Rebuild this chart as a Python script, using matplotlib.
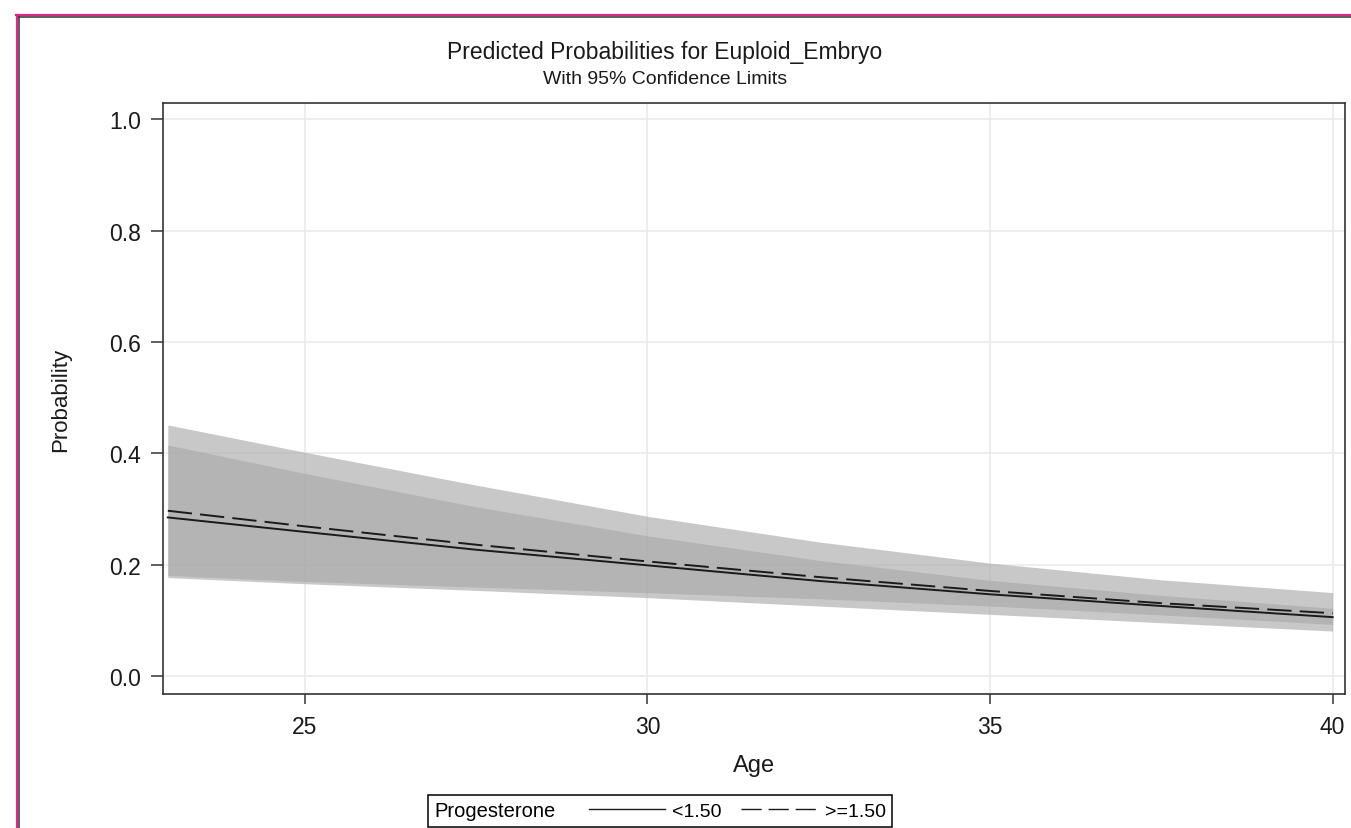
import matplotlib
matplotlib.use("Agg")
import matplotlib.pyplot as plt
from matplotlib.lines import Line2D
from matplotlib.offsetbox import HPacker

plt.rcParams['font.family'] = ['Liberation Sans', 'DejaVu Sans']

# values
age = [23, 25, 27.5, 30, 32.5, 35, 37.5, 40]
prob_low = [0.285, 0.259, 0.227, 0.199, 0.171, 0.147, 0.126, 0.106]
low_lcl = [0.181, 0.170, 0.160, 0.150, 0.139, 0.126, 0.110, 0.093]
low_ucl = [0.415, 0.364, 0.304, 0.252, 0.208, 0.172, 0.145, 0.122]
prob_high = [0.297, 0.269, 0.236, 0.206, 0.178, 0.153, 0.131, 0.113]
high_lcl = [0.177, 0.166, 0.154, 0.141, 0.126, 0.111, 0.096, 0.081]
high_ucl = [0.451, 0.402, 0.343, 0.287, 0.241, 0.203, 0.173, 0.150]
group_labels = ['<1.50', '>=1.50']
x_ticks = [25, 30, 35, 40]
y_ticks = [0.0, 0.2, 0.4, 0.6, 0.8, 1.0]

W, H = 1351, 829
fig = plt.figure(figsize=(W / 100, H / 100), dpi=100)
ax = fig.add_axes([163 / W, 1 - 695 / H, (1345 - 163) / W, (695 - 104) / H])

band_col = '#a9a9a9'
ax.fill_between(age, high_lcl, high_ucl, color=band_col, alpha=0.64, lw=0, zorder=2)
ax.fill_between(age, low_lcl, low_ucl, color=band_col, alpha=0.64, lw=0, zorder=2)
ax.plot(age, prob_low, color='#1a1a1a', lw=1.4, zorder=3)
ax.plot(age, prob_high, color='#1a1a1a', lw=1.4, dashes=(12.5, 4.2), zorder=3)

ax.set_xlim(22.93, 40.18)
ax.set_ylim(-0.032, 1.029)
ax.set_xticks(x_ticks)
ax.set_yticks(y_ticks)
ax.set_yticklabels([f'{v:.1f}' for v in y_ticks])
ax.grid(True, color='#ebebeb', lw=1.2, zorder=0)
ax.set_axisbelow(True)
for s in ax.spines.values():
    s.set_color('#333333')
    s.set_linewidth(1.2)
ax.tick_params(axis='both', direction='out', colors='#444444', width=1.2,
               labelsize=16.5, labelcolor='#1a1a1a')
ax.tick_params(axis='y', length=9, pad=7)
ax.tick_params(axis='x', length=7, pad=8)

ax.set_xlabel('Age', fontsize=17, color='#1a1a1a', labelpad=12)
ax.set_ylabel('Probability', fontsize=16, color='#1a1a1a', labelpad=27)

fig.text(665 / W, 1 - 53 / H, 'Predicted Probabilities for Euploid_Embryo',
         ha='center', va='center', fontsize=16.5, color='#1a1a1a')
fig.text(665 / W, 1 - 80 / H, 'With 95% Confidence Limits',
         ha='center', va='center', fontsize=14, color='#1a1a1a')

# legend with the title to the left of the entries, as in SAS
handles = [Line2D([], [], color='#1a1a1a', lw=1.0),
           Line2D([], [], color='#1a1a1a', lw=1.0, dashes=(14.5, 5))]
leg = fig.legend(handles, group_labels, ncol=2, title='Progesterone',
                 loc='center', bbox_to_anchor=(660 / W, 1 - 812 / H),
                 fontsize=14, title_fontsize=14.5, frameon=True, fancybox=False,
                 edgecolor='black', framealpha=1, borderpad=0.3,
                 handlelength=3.9, handletextpad=0.4, columnspacing=1.0,
                 borderaxespad=0)
leg.get_frame().set_linewidth(1.1)
hp = HPacker(pad=0.3 * 14.5, sep=24, align='center',
             children=[leg._legend_title_box, leg._legend_handle_box])
hp.set_figure(fig)
hp.set_offset(leg._findoffset)
leg._legend_box = hp

# outer frame of the graph window
fig.add_artist(Line2D([16 / W, 1], [1 - 16 / H, 1 - 16 / H], color='#d62c84', lw=1.6))
fig.add_artist(Line2D([16.5 / W, 16.5 / W], [0, 1 - 16 / H], color='#d62c84', lw=1.6))
fig.add_artist(Line2D([19 / W, 1], [1 - 18 / H, 1 - 18 / H], color='#333333', lw=1.1))
fig.add_artist(Line2D([19 / W, 19 / W], [0, 1 - 18 / H], color='#333333', lw=1.1))

fig.savefig('out.png', dpi=100)
